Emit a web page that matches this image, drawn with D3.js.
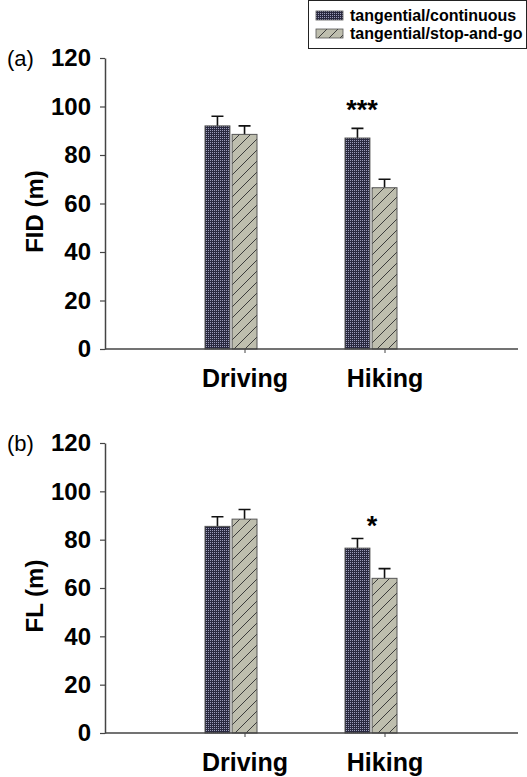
<!DOCTYPE html>
<html>
<head>
<meta charset="utf-8">
<script src="https://cdn.jsdelivr.net/npm/d3@7"></script>
<style>
body{margin:0;background:#fff}
svg{display:block}
text{font-family:"Liberation Sans",Arial,sans-serif}
</style>
</head>
<body>
<svg></svg>
<script>
// data
var categories = ["Driving", "Hiking"]
var seriesNames = ["tangential/continuous", "tangential/stop-and-go"]
var yTicks = [0, 20, 40, 60, 80, 100, 120]

var fidContinuous = [92, 87]
var fidStopGo = [88.5, 66.5]
var fidContinuousErr = [4, 4]
var fidStopGoErr = [3.5, 3.5]
var fidStars = ["", "***"]

var flContinuous = [85.5, 76.5]
var flStopGo = [88.5, 64]
var flContinuousErr = [4, 4]
var flStopGoErr = [4, 4]
var flStars = ["", "*"]

var screen = {width: 527, height: 777}

var svg = d3.select("svg")
    .attr("width", screen.width)
    .attr("height", screen.height)

var defs = svg.append("defs")

var dots = defs.append("pattern")
    .attr("id", "dots")
    .attr("patternUnits", "userSpaceOnUse")
    .attr("width", 2).attr("height", 2)
dots.append("rect").attr("width", 2).attr("height", 2).attr("fill", "#29293f")
dots.append("rect").attr("width", 1).attr("height", 1).attr("fill", "#9c9cba")

var hatch = defs.append("pattern")
    .attr("id", "hatch")
    .attr("patternUnits", "userSpaceOnUse")
    .attr("width", 11).attr("height", 11)
hatch.append("rect").attr("width", 11).attr("height", 11).attr("fill", "#bebeae")
hatch.append("path").attr("d", "M-1,12 L12,-1").attr("stroke", "#3c3c3c").attr("stroke-width", 1)

var fills = ["url(#dots)", "url(#hatch)"]

var x = d3.scaleBand().domain(categories).range([175, 455])
var xSub = d3.scaleBand().domain(seriesNames).range([-40, 12]).paddingInner(0.08)

var drawPanel = function(panel)
{
    var y = d3.scaleLinear().domain([0, 120]).range([panel.bottom, panel.top])
    var g = svg.append("g")

    var rows = categories.map(function(c, i) {
        return [
            {cat: c, s: seriesNames[0], v: panel.cont[i], e: panel.contErr[i]},
            {cat: c, s: seriesNames[1], v: panel.stop[i], e: panel.stopErr[i]}
        ]
    })
    var bars = d3.merge(rows)

    // error bars (upward only)
    g.selectAll(".err")
        .data(bars)
        .enter()
        .append("path")
        .attr("d", function(d) {
            var cx = x(d.cat) + x.bandwidth() / 2 + xSub(d.s) + xSub.bandwidth() / 2
            return "M" + cx + "," + y(d.v) + "V" + y(d.v + d.e) + "M" + (cx - 6) + "," + y(d.v + d.e) + "H" + (cx + 6)
        })
        .attr("stroke", "#111")
        .attr("stroke-width", 1.6)
        .attr("fill", "none")

    g.selectAll(".bar")
        .data(bars)
        .enter()
        .append("rect")
        .attr("x", function(d) { return x(d.cat) + x.bandwidth() / 2 + xSub(d.s) })
        .attr("y", function(d) { return y(d.v) })
        .attr("width", xSub.bandwidth())
        .attr("height", function(d) { return y(0) - y(d.v) })
        .attr("fill", function(d) { return fills[seriesNames.indexOf(d.s)] })
        .attr("stroke", "#555")
        .attr("stroke-width", 1)

    // stars
    g.selectAll(".star")
        .data(categories)
        .enter()
        .append("text")
        .attr("x", function(c, i) { return x(c) + x.bandwidth() / 2 + panel.starDx })
        .attr("y", function(c, i) { return y(d3.max([panel.cont[i] + panel.contErr[i], panel.stop[i] + panel.stopErr[i]])) + panel.starDy })
        .attr("text-anchor", "middle")
        .style("font-size", "27px")
        .style("font-weight", "bold")
        .text(function(c, i) { return panel.stars[i] })

    // y axis
    var yAxis = g.append("g")
        .attr("transform", "translate(105,0)")
        .call(d3.axisLeft(y).tickValues(yTicks).tickSize(5).tickSizeOuter(0).tickPadding(9))
    yAxis.select(".domain").attr("stroke", "#444").attr("stroke-width", 1.5)
    yAxis.selectAll(".tick line").attr("stroke", "#444").attr("stroke-width", 1.2)
    yAxis.selectAll(".tick text")
        .style("font-size", "24px").style("font-weight", "bold").attr("fill", "#000")
        .style("font-family", "'Liberation Sans',Arial,sans-serif")

    // x axis
    var xAxis = g.append("g")
        .attr("transform", "translate(0," + y(0) + ")")
        .call(d3.axisBottom(x).tickSize(4).tickSizeOuter(0).tickPadding(16))
    xAxis.select(".domain").remove()
    xAxis.selectAll(".tick line").attr("stroke", "#444")
    xAxis.selectAll(".tick text")
        .style("font-size", "25px").style("font-weight", "bold").attr("fill", "#000")
        .style("font-family", "'Liberation Sans',Arial,sans-serif")
    g.append("line")
        .attr("x1", 105).attr("x2", 518)
        .attr("y1", y(0)).attr("y2", y(0))
        .attr("stroke", "#444").attr("stroke-width", 1.5)

    g.append("text")
        .attr("x", 7).attr("y", y(120) + 8)
        .style("font-size", "22px")
        .text(panel.tag)

    g.append("text")
        .attr("transform", "translate(43," + ((panel.top + panel.bottom) / 2 + 8) + ") rotate(-90)")
        .attr("text-anchor", "middle")
        .style("font-size", "24px")
        .style("font-weight", "bold")
        .text(panel.label)
}

drawPanel({top: 58, bottom: 349, tag: "(a)", label: "FID (m)",
    cont: fidContinuous, stop: fidStopGo, contErr: fidContinuousErr, stopErr: fidStopGoErr,
    stars: fidStars, starDx: -23, starDy: -9})
drawPanel({top: 443, bottom: 733, tag: "(b)", label: "FL (m)",
    cont: flContinuous, stop: flStopGo, contErr: flContinuousErr, stopErr: flStopGoErr,
    stars: flStars, starDx: -13, starDy: -3})

// legend
var legend = svg.append("g")
legend.append("rect")
    .attr("x", 308.5).attr("y", 0.5)
    .attr("width", 218).attr("height", 48)
    .attr("fill", "#fff").attr("stroke", "#222").attr("stroke-width", 1)
var item = legend.selectAll(".item")
    .data(seriesNames)
    .enter()
    .append("g")
    .attr("transform", function(d, i) { return "translate(316," + (11 + i * 18) + ")" })
item.append("rect")
    .attr("width", 27).attr("height", 9)
    .attr("fill", function(d, i) { return fills[i] })
    .attr("stroke", "#555").attr("stroke-width", 0.8)
item.append("text")
    .attr("x", 34).attr("y", 10)
    .style("font-size", "16px").style("font-weight", "bold")
    .text(function(d) { return d })
</script>
</body>
</html>
